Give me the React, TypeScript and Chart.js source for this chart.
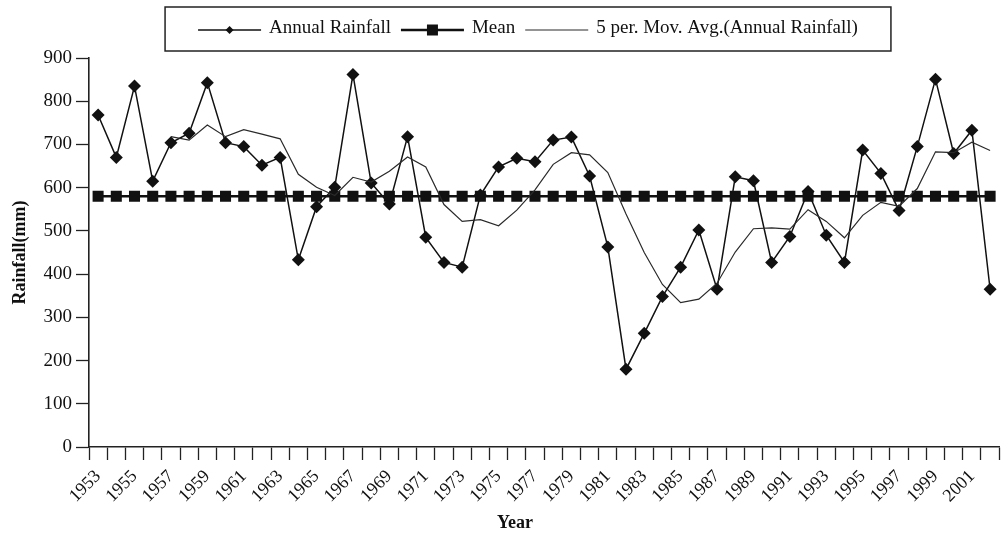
import React, { useEffect, useRef } from 'react';
import { Chart, registerables } from 'chart.js';

Chart.register(...registerables);

const years = [
  '1953', '1954', '1955', '1956', '1957', '1958', '1959', '1960', '1961', '1962',
  '1963', '1964', '1965', '1966', '1967', '1968', '1969', '1970', '1971', '1972',
  '1973', '1974', '1975', '1976', '1977', '1978', '1979', '1980', '1981', '1982',
  '1983', '1984', '1985', '1986', '1987', '1988', '1989', '1990', '1991', '1992',
  '1993', '1994', '1995', '1996', '1997', '1998', '1999', '2000', '2001', '2002',
];

const shownYearLabels = [
  '1953', '1955', '1957', '1959', '1961', '1963', '1965', '1967', '1969', '1971',
  '1973', '1975', '1977', '1979', '1981', '1983', '1985', '1987', '1989', '1991',
  '1993', '1995', '1997', '1999', '2001',
];

const yTicks = [0, 100, 200, 300, 400, 500, 600, 700, 800, 900];

const annualRainfall = [
  768, 670, 835, 615, 704, 726, 843, 704, 695, 652,
  670, 433, 556, 601, 862, 611, 562, 718, 485, 427,
  416, 583, 648, 668, 660, 710, 717, 627, 463, 180,
  263, 348, 416, 502, 365, 625, 616, 427, 487, 591,
  490, 427, 687, 633, 547, 695, 851, 679, 733, 365,
];

const meanRainfall = [
  580, 580, 580, 580, 580, 580, 580, 580, 580, 580,
  580, 580, 580, 580, 580, 580, 580, 580, 580, 580,
  580, 580, 580, 580, 580, 580, 580, 580, 580, 580,
  580, 580, 580, 580, 580, 580, 580, 580, 580, 580,
  580, 580, 580, 580, 580, 580, 580, 580, 580, 580,
];

const movingAverage = [
  null, null, null, null, 718, 710, 745, 718, 734, 724,
  713, 631, 601, 582, 624, 613, 638, 671, 648, 561,
  522, 526, 512, 548, 595, 654, 681, 676, 635, 539,
  450, 376, 334, 342, 379, 451, 505, 507, 504, 549,
  522, 484, 536, 566, 557, 598, 683, 681, 705, 686,
];

const SERIF = '"Liberation Serif", "Times New Roman", Times, serif';
const INK = '#111111';

function drawMarker(ctx: CanvasRenderingContext2D, style: string, x: number, y: number, r: number) {
  ctx.beginPath();
  if (style === 'rectRot') {
    ctx.moveTo(x, y - r);
    ctx.lineTo(x + r, y);
    ctx.lineTo(x, y + r);
    ctx.lineTo(x - r, y);
    ctx.closePath();
  } else if (style === 'rect') {
    ctx.rect(x - r, y - r, 2 * r, 2 * r);
  }
  ctx.fill();
}

const boxedLegend = {
  id: 'boxedLegend',
  afterDraw(chart: any, _args: any, opts: any) {
    const ctx: CanvasRenderingContext2D = chart.ctx;
    ctx.save();
    ctx.font = `${opts.fontSize}px ${SERIF}`;
    const items = chart.data.datasets.map((ds: any) => ({
      label: ds.label as string,
      marker: ds.legendMarker as string | null,
      markerSize: ds.legendMarkerSize as number,
      lineWidth: ds.borderWidth as number,
      color: ds.borderColor as string,
      textWidth: ctx.measureText(ds.label).width,
    }));
    const sample = opts.sampleWidth;
    const gapText = opts.gapText;
    const gapItem = opts.gapItem;
    let total = 0;
    items.forEach((it: any, i: number) => {
      total += sample + gapText + it.textWidth + (i < items.length - 1 ? gapItem : 0);
    });
    const left = opts.centerX - total / 2;
    const boxL = left - opts.padX;
    const boxR = left + total + opts.padX;
    ctx.strokeStyle = '#222';
    ctx.lineWidth = 1.5;
    ctx.strokeRect(boxL, opts.top, boxR - boxL, opts.height);
    const cy = opts.top + opts.height / 2;
    let x = left;
    items.forEach((it: any) => {
      ctx.strokeStyle = it.color;
      ctx.fillStyle = it.color;
      ctx.lineWidth = it.lineWidth;
      ctx.beginPath();
      ctx.moveTo(x, cy + 1);
      ctx.lineTo(x + sample, cy + 1);
      ctx.stroke();
      if (it.marker) drawMarker(ctx, it.marker, x + sample / 2, cy + 1, it.markerSize);
      x += sample + gapText;
      ctx.fillStyle = INK;
      ctx.textBaseline = 'middle';
      ctx.textAlign = 'left';
      ctx.fillText(it.label, x, cy - 1);
      x += it.textWidth + gapItem;
    });
    ctx.restore();
  },
};

// draws the x-axis title slightly left of the plot centre, as in the source figure
const xAxisTitle = {
  id: 'xAxisTitle',
  afterDraw(chart: any, _args: any, opts: any) {
    const ctx: CanvasRenderingContext2D = chart.ctx;
    const area = chart.chartArea;
    ctx.save();
    ctx.font = `bold ${opts.fontSize}px ${SERIF}`;
    ctx.fillStyle = INK;
    ctx.textAlign = 'center';
    ctx.textBaseline = 'middle';
    ctx.fillText(opts.text, (area.left + area.right) / 2 + opts.offsetX, chart.height - opts.offsetBottom);
    ctx.restore();
  },
};

export default function App() {
  const canvasRef = useRef<HTMLCanvasElement | null>(null);

  useEffect(() => {
    document.body.style.margin = '0';
    const canvas = canvasRef.current;
    if (!canvas) return;
    const chart = new Chart(canvas, {
      type: 'line',
      data: {
        labels: years,
        datasets: [
          {
            label: 'Annual Rainfall',
            data: annualRainfall,
            borderColor: INK,
            backgroundColor: INK,
            borderWidth: 1.5,
            pointStyle: 'rectRot',
            pointRadius: 6.5,
            pointBorderWidth: 0,
            pointBackgroundColor: INK,
            tension: 0,
            order: 2,
            legendMarker: 'rectRot',
            legendMarkerSize: 4,
          } as any,
          {
            label: 'Mean',
            data: meanRainfall,
            borderColor: INK,
            backgroundColor: INK,
            borderWidth: 2.5,
            pointStyle: 'rect',
            pointRadius: 7.8,
            pointBorderWidth: 0,
            pointBackgroundColor: INK,
            tension: 0,
            order: 1,
            legendMarker: 'rect',
            legendMarkerSize: 5.5,
          } as any,
          {
            label: '5 per. Mov. Avg.(Annual Rainfall)',
            data: movingAverage,
            borderColor: '#2a2a2a',
            backgroundColor: '#2a2a2a',
            borderWidth: 1.2,
            pointRadius: 0,
            tension: 0,
            order: 0,
            legendMarker: null,
            legendMarkerSize: 0,
          } as any,
        ],
      },
      options: {
        animation: false,
        responsive: false,
        layout: { padding: { top: 58, right: 7, bottom: 0, left: 0 } },
        plugins: {
          legend: { display: false },
          tooltip: { enabled: false },
          boxedLegend: {
            fontSize: 19,
            sampleWidth: 63,
            gapText: 8,
            gapItem: 10,
            centerX: 528,
            padX: 33,
            top: 7,
            height: 44,
          },
          xAxisTitle: {
            text: 'Year',
            fontSize: 18,
            offsetX: -29,
            offsetBottom: 12,
          },
        } as any,
        scales: {
          x: {
            type: 'category',
            offset: true,
            afterFit: (scale: any) => {
              scale.height = 88;
              scale.paddingLeft = 0;
              scale.paddingRight = 0;
            },
            grid: {
              offset: true,
              drawOnChartArea: false,
              drawTicks: true,
              tickLength: 13,
              tickWidth: 1.3,
              tickColor: '#222',
            },
            border: { display: true, color: '#222', width: 1.6 },
            ticks: {
              autoSkip: false,
              maxRotation: 45,
              minRotation: 45,
              padding: 6,
              color: INK,
              font: { family: SERIF, size: 18 },
              callback: (_v: any, index: number) =>
                shownYearLabels.includes(years[index]) ? years[index] : '',
            },
            title: { display: false },
          },
          y: {
            min: 0,
            max: 900,
            afterFit: (scale: any) => {
              scale.width = 89;
            },
            afterBuildTicks: (scale: any) => {
              scale.ticks = yTicks.map((v) => ({ value: v }));
            },
            grid: {
              drawOnChartArea: false,
              drawTicks: true,
              tickLength: 13,
              tickWidth: 1.3,
              tickColor: '#222',
            },
            border: { display: true, color: '#222', width: 1.6 },
            ticks: {
              padding: 4,
              color: INK,
              font: { family: SERIF, size: 19 },
            },
            title: {
              display: true,
              text: 'Rainfall(mm)',
              color: INK,
              font: { family: SERIF, size: 18, weight: 'bold' },
              padding: { top: 10, bottom: 0 },
            },
          },
        },
      },
      plugins: [boxedLegend, xAxisTitle],
    });
    return () => chart.destroy();
  }, []);

  return <canvas ref={canvasRef} width={1007} height={535} style={{ display: 'block' }} />;
}
